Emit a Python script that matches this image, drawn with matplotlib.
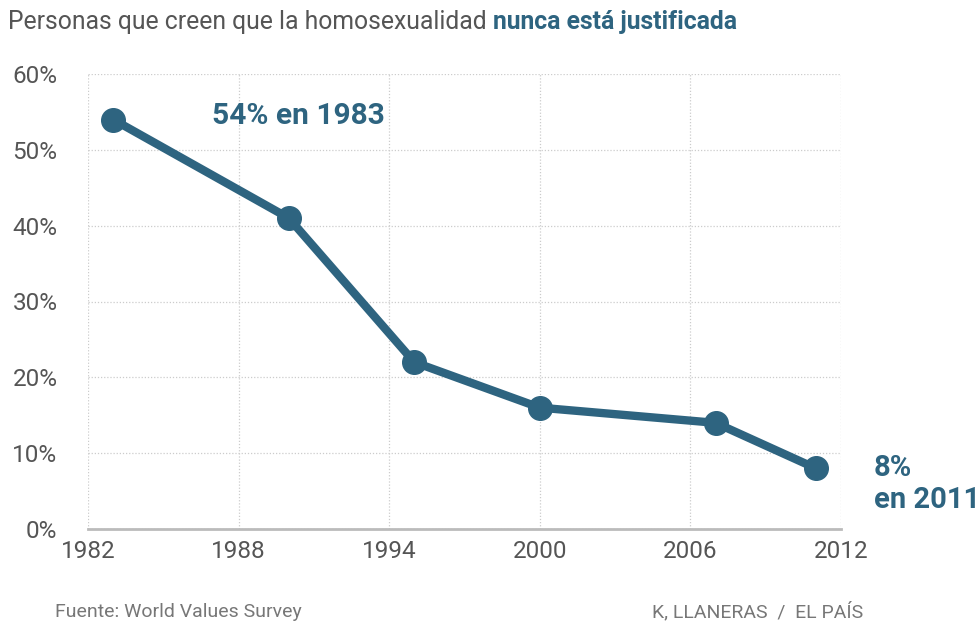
import numpy as np
import matplotlib
matplotlib.use("Agg")
import matplotlib.pyplot as plt

years = [1983, 1990, 1995, 2000, 2007, 2011]
values = [54, 41, 22, 16, 14, 8]
xticks = [1982, 1988, 1994, 2000, 2006, 2012]
yticks = [0, 10, 20, 30, 40, 50, 60]

blue = '#2e6480'
gray = '#555555'

plt.rcParams['font.family'] = ['Roboto', 'DejaVu Sans']

fig = plt.figure(figsize=(9.8, 6.29), dpi=100)
fig.set_facecolor('white')
ax = fig.add_axes([88/980, 1-529/629, (841-88)/980, (529-74)/629])

ax.plot(years, values, color=blue, lw=6, marker='o', ms=17, solid_capstyle='round', zorder=3, clip_on=False)

ax.set_xlim(1982, 2012)
ax.set_ylim(0, 60)
ax.set_xticks(xticks)
ax.set_yticks(yticks)
ax.set_yticklabels([str(v) + '%' for v in yticks])
ax.grid(True, color='#cccccc', linestyle=(0, (1, 1.5)), lw=0.9)
for s in ['top', 'right', 'left']:
    ax.spines[s].set_visible(False)
ax.spines['bottom'].set_color('#bbbbbb')
ax.spines['bottom'].set_linewidth(2)
ax.tick_params(length=0, labelsize=17.5, labelcolor=gray, pad=8)
ax.tick_params(axis='y', pad=22)

# annotations
ax.text(1986.95, 54.5, '54% en 1983', color=blue, fontsize=21.5, fontweight='semibold', va='center')
ax.text(2013.3, 5.9, '8%\nen 2011', color=blue, fontsize=21, fontweight='semibold', va='center', linespacing=1.2)

# title in two colours
t1 = fig.text(8/980, 1-22/629, 'Personas que creen que la homosexualidad ', color=gray, fontsize=17.8, va='center')
fig.canvas.draw()
bb = t1.get_window_extent()
fig.text(bb.x1/980, 1-22/629, 'nunca está justificada', color=blue, fontsize=17.8, fontweight='bold', va='center')

fig.text(55/980, 1-612/629, 'Fuente: World Values Survey', color='#777777', fontsize=14, va='center')
fig.text(863/980, 1-612/629, 'K, LLANERAS  /  EL PAÍS', color='#777777', fontsize=14, va='center', ha='right')

fig.savefig('out.png', dpi=100, facecolor='white')
